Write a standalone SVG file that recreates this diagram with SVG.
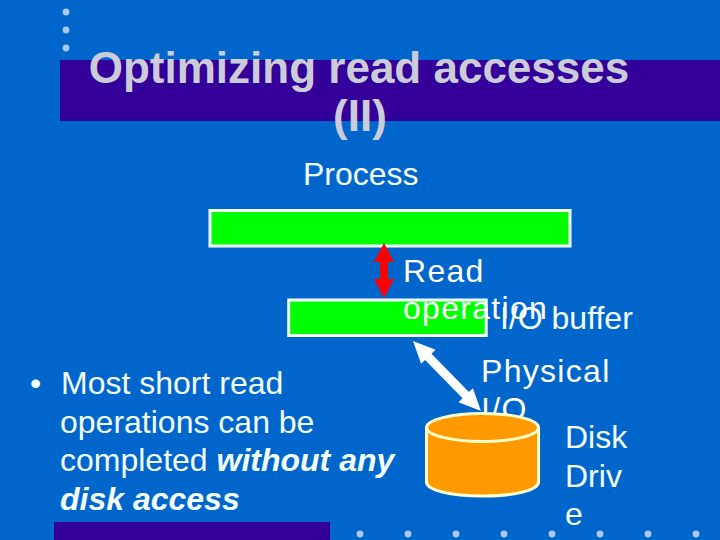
<svg xmlns="http://www.w3.org/2000/svg" width="720" height="540" viewBox="0 0 720 540">
<style>
text{font-family:"Liberation Sans",Arial,sans-serif;fill:#fff}
.t{font-size:44px;font-weight:bold;fill:#ccccd8;text-anchor:middle}
.b{font-size:32px;fill:#f4ffff}
.l{font-size:32px;letter-spacing:1.3px}
.bi{font-weight:bold;font-style:italic}
.box{fill:#00ff00;stroke:#f4ffff;stroke-width:3}
.dot{fill:#a9c9f0}
.cyl{fill:#ff9900;stroke:#ffffcc;stroke-width:3}
</style>
<defs>
<g id="d"><circle r="3.4" class="dot"/></g>
</defs>
<rect width="720" height="540" fill="#0066cc"/>
<g id="decor">
<rect x="60" y="60" width="660" height="61" fill="#330099"/>
<rect x="54" y="522" width="276" height="18" fill="#330099"/>
<use href="#d" x="66" y="12"/><use href="#d" x="66" y="30"/><use href="#d" x="66" y="48"/>
<use href="#d" x="360" y="534"/><use href="#d" x="408" y="534"/><use href="#d" x="456" y="534"/><use href="#d" x="504" y="534"/><use href="#d" x="552" y="534"/><use href="#d" x="600" y="534"/><use href="#d" x="648" y="534"/><use href="#d" x="696" y="534"/>
</g>
<g id="title">
<text class="t" x="359" y="83">Optimizing read accesses</text>
<text class="t" x="360" y="131">(II)</text>
</g>
<g id="process"><rect class="box" x="210" y="210.500" width="360" height="35.500"/><text class="b" x="303" y="185">Process</text></g>
<g id="buffer"><rect class="box" x="288.700" y="300" width="197.500" height="35.500"/><text class="b" x="500" y="329">I/O buffer</text></g>
<g id="disk">
<path class="cyl" d="M426.500 428V482C426.500 490 450 496 482.500 496S538.500 490 538.500 482V428"/>
<text class="b" x="565" y="448">Disk</text><text class="b" x="565" y="487">Driv</text><text class="b" x="565" y="525">e</text>
</g>
<g id="connectors">
<path d="M384 243L394 262H388V279H394L384 298L374 279H380V262H374Z" fill="#ff0000"/>
<path d="M413 341L435.500 349.800L431.500 353.700L468.900 392.100L472.900 388.200L481 411L458.500 402.200L462.500 398.300L425.100 359.900L421.100 363.800Z" fill="#fff"/>
</g>
<g id="labels">
<text class="l" x="403" y="282">Read</text><text class="l" x="403" y="319">operation</text>
<text class="l" x="481" y="382">Physical</text><text class="l" x="481" y="420">I/O</text>
</g>
<g id="disk-top"><ellipse class="cyl" cx="482.500" cy="427.500" rx="56" ry="14"/></g>
<g id="bullet">
<text class="b" x="30" y="394">•</text>
<text class="b" x="61" y="394">Most short read</text>
<text class="b" x="60" y="433">operations can be</text>
<text class="b" x="60" y="471">completed <tspan class="bi">without any</tspan></text>
<text class="b bi" x="60" y="510">disk access</text>
</g>
</svg>
